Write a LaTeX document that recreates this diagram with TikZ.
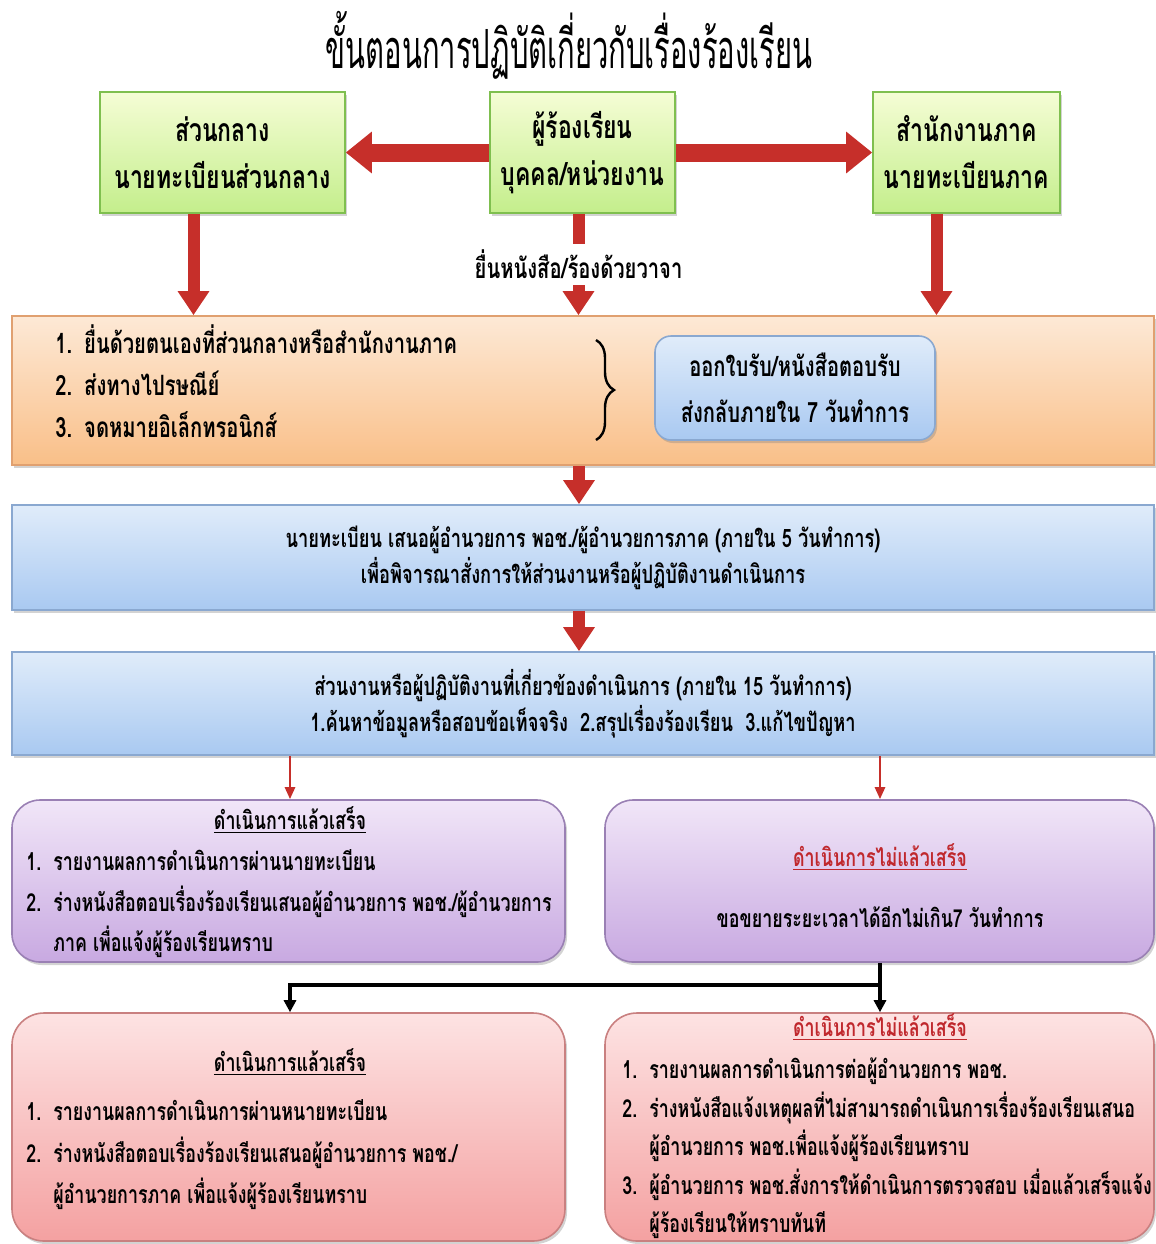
\documentclass[tikz,border=0pt]{standalone}
\usepackage{fontspec}
\newfontfamily\thaifont[Script=Thai,FakeStretch=0.72]{Loma}
\newfontfamily\thaititle[Script=Thai,FakeStretch=0.54]{Loma}
\usetikzlibrary{arrows.meta,shadows,decorations.pathreplacing}

\definecolor{greentop}{HTML}{F5FDD5}
\definecolor{greenbot}{HTML}{C4EE8C}
\definecolor{greenline}{HTML}{7FBF4F}
\definecolor{orangetop}{HTML}{FDE9D6}
\definecolor{orangebot}{HTML}{F9BF88}
\definecolor{orangeline}{HTML}{E0A070}
\definecolor{bluetop}{HTML}{E0ECFA}
\definecolor{bluebot}{HTML}{A9C9F1}
\definecolor{blueline}{HTML}{8AA8D0}
\definecolor{purpletop}{HTML}{F1E6F8}
\definecolor{purplebot}{HTML}{C8A9E1}
\definecolor{purpleline}{HTML}{9A80B4}
\definecolor{pinktop}{HTML}{FDE3E3}
\definecolor{pinkbot}{HTML}{F4A1A1}
\definecolor{pinkline}{HTML}{C98080}
\definecolor{arrowred}{HTML}{C62F2A}
\definecolor{titlered}{HTML}{C0282D}

\tikzset{
  panel/.style={draw=#1line, line width=0.8pt, top color=#1top, bottom color=#1bot,
    drop shadow={opacity=0.35, shadow xshift=1pt, shadow yshift=-1.5pt}},
  txt/.style={font=\thaifont\bfseries\fontsize{14}{21}\selectfont, inner sep=0pt},
  small/.style={font=\thaifont\bfseries\fontsize{12.4}{20.2}\selectfont, inner sep=0pt},
  bigtxt/.style={font=\thaifont\bfseries\fontsize{16}{23.5}\selectfont, align=center},
  fatarrow/.style={draw=arrowred, line width=9pt, -{Triangle[length=13pt,width=20pt]}},
  downarrow/.style={draw=arrowred, line width=6pt, -{Triangle[length=12pt,width=15pt]}},
  thinarrow/.style={draw=arrowred, line width=1.3pt, -{Triangle[length=6pt,width=5pt]}},
  blackarrow/.style={draw=black, line width=2pt, -{Triangle[length=6pt,width=6pt]}}
}
\newcommand{\itemlist}[1]{\begin{tabular}{@{}l@{\hspace{6pt}}l@{}}#1\end{tabular}}

\begin{document}
\begin{tikzpicture}[x=0.5pt, y=-0.5pt]
    \useasboundingbox (0,0) rectangle (1156,1244);

    \node[font=\thaititle\fontsize{27}{30}\selectfont] (title) at (569,45) {ขั้นตอนการปฏิบัติเกี่ยวกับเรื่องร้องเรียน};

    % top row
    \node[panel=green, bigtxt, minimum width=122.5pt, minimum height=60.5pt] (central) at (222.5,152.5) {ส่วนกลาง\\นายทะเบียนส่วนกลาง};
    \node[panel=green, bigtxt, minimum width=92.5pt, minimum height=60.5pt] (complainant) at (582.5,152.5) {ผู้ร้องเรียน\\บุคคล/หน่วยงาน};
    \node[panel=green, bigtxt, minimum width=93.5pt, minimum height=60.5pt] (regional) at (966.5,152.5) {สำนักงานภาค\\นายทะเบียนภาค};

    % channels of complaint
    \node[panel=orange, minimum width=571pt, minimum height=74.5pt] (channels) at (583,390.5) {};
    \node[txt, anchor=west, align=left] (ways) at (55,387) {\itemlist{1. & ยื่นด้วยตนเองที่ส่วนกลางหรือสำนักงานภาค\\ 2. & ส่งทางไปรษณีย์\\ 3. & จดหมายอิเล็กทรอนิกส์}};
    \draw[line width=1.2pt, decorate, decoration={brace, amplitude=9pt}] (596,340) -- (596,440);
    \node[panel=blue, rounded corners=8pt, txt, align=center, minimum width=140pt, minimum height=52pt, font=\thaifont\bfseries\fontsize{14}{23}\selectfont] (receipt) at (795,388) {ออกใบรับ/หนังสือตอบรับ\\ส่งกลับภายใน 7 วันทำการ};

    \draw[fatarrow] (complainant.west) -- (central.east);
    \draw[fatarrow] (complainant.east) -- (regional.west);
    \draw[downarrow] ([xshift=-14.5pt]central.south) -- ([xshift=-14.5pt]central.south |- channels.north);
    \draw[downarrow] ([xshift=-15pt]regional.south) -- ([xshift=-15pt]regional.south |- channels.north);
    \draw[downarrow] ([xshift=-2pt]complainant.south) -- node[fill=white, txt, inner sep=3pt] (submit) {ยื่นหนังสือ/ร้องด้วยวาจา} ([xshift=-2pt]complainant.south |- channels.north);

    % registrar steps
    \node[panel=blue, txt, align=center, minimum width=571pt, minimum height=52.5pt, font=\thaifont\bfseries\fontsize{12.7}{18}\selectfont] (propose) at (583,557.5) {นายทะเบียน เสนอผู้อำนวยการ พอช./ผู้อำนวยการภาค (ภายใน 5 วันทำการ)\\เพื่อพิจารณาสั่งการให้ส่วนงานหรือผู้ปฏิบัติงานดำเนินการ};
    \node[panel=blue, txt, align=center, minimum width=571pt, minimum height=51.5pt, font=\thaifont\bfseries\fontsize{12.7}{18}\selectfont] (action) at (583,703.5) {ส่วนงานหรือผู้ปฏิบัติงานที่เกี่ยวข้องดำเนินการ (ภายใน 15 วันทำการ)\\1.ค้นหาข้อมูลหรือสอบข้อเท็จจริง\ \ 2.สรุปเรื่องร้องเรียน\ \ 3.แก้ไขปัญหา};

    \draw[downarrow] ([xshift=-2pt]channels.south) -- ([xshift=-2pt]propose.north);
    \draw[downarrow] ([xshift=-2pt]propose.south) -- ([xshift=-2pt]action.north);

    % first results
    \node[panel=purple, rounded corners=14pt, minimum width=276.5pt, minimum height=81pt] (doneA) at (288.5,881) {};
    \node[panel=purple, rounded corners=14pt, minimum width=274.5pt, minimum height=81pt] (notdoneA) at (879.5,881) {};
    \node[small] (doneAtitle) at (290,820) {\underline{ดำเนินการแล้วเสร็จ}};
    \node[small, anchor=north west, align=left] (doneAlist) at (26,842) {\itemlist{1. & รายงานผลการดำเนินการผ่านนายทะเบียน\\ 2. & ร่างหนังสือตอบเรื่องร้องเรียนเสนอผู้อำนวยการ พอช./ผู้อำนวยการ\\ & ภาค เพื่อแจ้งผู้ร้องเรียนทราบ}};
    \node[small, text=titlered] (notdoneAtitle) at (880,857) {\underline{ดำเนินการไม่แล้วเสร็จ}};
    \node[small] (extend) at (880,917) {ขอขยายระยะเวลาได้อีกไม่เกิน7 วันทำการ};

    \draw[thinarrow] (action.south -| doneAtitle) -- (doneA.north -| doneAtitle);
    \draw[thinarrow] (action.south -| notdoneAtitle) -- (notdoneA.north -| notdoneAtitle);

    % final results
    \node[panel=pink, rounded corners=16pt, minimum width=276.5pt, minimum height=114pt] (doneB) at (288.5,1127) {};
    \node[panel=pink, rounded corners=16pt, minimum width=274.5pt, minimum height=114pt] (notdoneB) at (879.5,1127) {};
    \node[small] (doneBtitle) at (290,1062) {\underline{ดำเนินการแล้วเสร็จ}};
    \node[small, anchor=north west, align=left, font=\thaifont\bfseries\fontsize{12.4}{20.8}\selectfont] (doneBlist) at (26,1091) {\itemlist{1. & รายงานผลการดำเนินการผ่านหนายทะเบียน\\ 2. & ร่างหนังสือตอบเรื่องร้องเรียนเสนอผู้อำนวยการ พอช./\\ & ผู้อำนวยการภาค เพื่อแจ้งผู้ร้องเรียนทราบ}};
    \node[small, text=titlered] (notdoneBtitle) at (880,1027) {\underline{ดำเนินการไม่แล้วเสร็จ}};
    \node[small, anchor=north west, align=left, font=\thaifont\bfseries\fontsize{12.4}{19.3}\selectfont] (notdoneBlist) at (622,1051) {\itemlist{1. & รายงานผลการดำเนินการต่อผู้อำนวยการ พอช.\\ 2. & ร่างหนังสือแจ้งเหตุผลที่ไม่สามารถดำเนินการเรื่องร้องเรียนเสนอ\\ & ผู้อำนวยการ พอช.เพื่อแจ้งผู้ร้องเรียนทราบ\\ 3. & ผู้อำนวยการ พอช.สั่งการให้ดำเนินการตรวจสอบ เมื่อแล้วเสร็จแจ้ง\\ & ผู้ร้องเรียนให้ทราบทันที}};

    \coordinate (split) at (880,985);
    \draw[line width=2pt] (notdoneA.south -| split) -- (split);
    \draw[blackarrow] (split) -| (doneB.north -| doneBtitle);
    \draw[blackarrow] (split) -- (notdoneB.north -| split);
\end{tikzpicture}
\end{document}
